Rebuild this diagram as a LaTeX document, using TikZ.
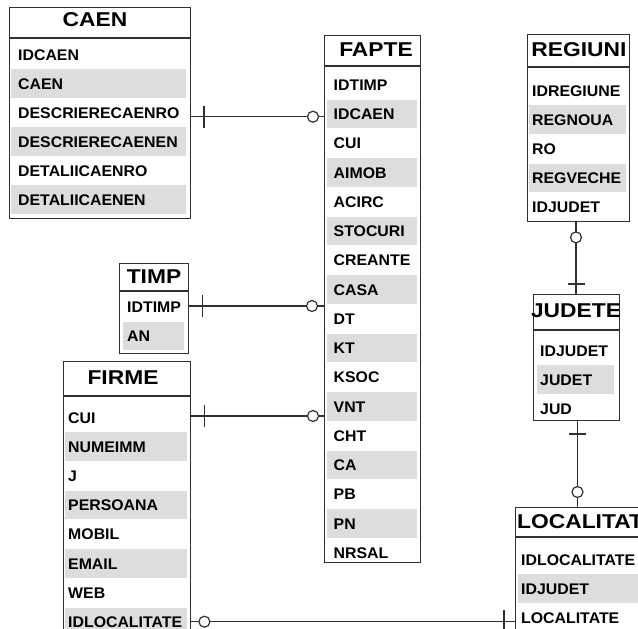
\documentclass[tikz,border=0pt]{standalone}
\usepackage{fontspec}
\setmainfont{Liberation Sans}
\newfontfamily\titlefont[FakeStretch=1.14]{Liberation Sans}
\newfontfamily\rowfont[FakeStretch=1.03]{Liberation Sans}
\usetikzlibrary{calc}
\definecolor{rowshade}{HTML}{DDDDDD}
\definecolor{edge}{HTML}{303030}
\tikzset{
  tbl/.style={draw=edge, line width=1.4pt, inner sep=0pt, anchor=north west},
  hdr/.style={draw=edge, line width=1.2pt},
  ttl/.style={inner sep=0pt, text=black, font=\titlefont\fontsize{20}{24}\selectfont\bfseries},
  rowtext/.style={inner sep=0pt, anchor=base west, text=black, font=\rowfont\fontsize{15.4}{18}\selectfont\bfseries},
  conn/.style={draw=edge, line width=1.2pt},
}
% #1 name, #2 text x, #3 shade x1, #4 shade x2, #5 first centre, #6 pitch, #7 rows
\newcommand\errows[7]{%
  \foreach \t [count=\i] in {#7} {
    \pgfmathsetmacro\cc{#5+(\i-1)*#6}
    \ifodd\i\relax\else \fill[rowshade] (#3,\cc-14.3) rectangle (#4,\cc+14.3); \fi
    \node[rowtext] (#1-\i) at (#2,\cc+5.6) {\t};
  }%
}
% #1 bar end, #2 circle end, #3 bar offset, #4 circle offset, #5 bar half length
\newcommand\erlink[5]{%
  \draw[conn] (#1) -- (#2);
  \draw[conn] ($(#1)!#3pt!(#2)!#5pt!90:(#2)$) -- ($(#1)!#3pt!(#2)!#5pt!-90:(#2)$);
  \draw[conn, fill=white] ($(#2)!#4pt!(#1)$) circle (5.5);
}
\begin{document}
\begin{tikzpicture}[x=1pt, y=-1pt]
\useasboundingbox (0,0) rectangle (638,629);
\clip (0,0) rectangle (638,629);

% ---------- rows (shading + text) ----------
\errows{caen}{18}{11}{186}{54.5}{29}{IDCAEN,CAEN,DESCRIERECAENRO,DESCRIERECAENEN,DETALIICAENRO,DETALIICAENEN}
\errows{fapte}{333.5}{327}{417}{84.75}{29.25}{IDTIMP,IDCAEN,CUI,AIMOB,ACIRC,STOCURI,CREANTE,CASA,DT,KT,KSOC,VNT,CHT,CA,PB,PN,NRSAL}
\errows{regiuni}{532}{529}{626}{90.5}{29.2}{IDREGIUNE,REGNOUA,RO,REGVECHE,IDJUDET}
\errows{judete}{540}{537}{614}{350.5}{29.2}{IDJUDET,JUDET,JUD}
\errows{localitate}{521}{518}{645}{559.5}{29.2}{IDLOCALITATE,IDJUDET,LOCALITATE}
\errows{timp}{127}{123}{184}{307}{29}{IDTIMP,AN}
\errows{firme}{68}{65}{187}{417.5}{29.2}{CUI,NUMEIMM,J,PERSOANA,MOBIL,EMAIL,WEB,IDLOCALITATE}

% ---------- tables ----------
\node[tbl, minimum width=181pt, minimum height=211pt] (caen) at (9,7) {};
\draw[hdr] (caen.west |- 0,38) -- (caen.east |- 0,38);
\node[ttl] (caen-t) at (95,20) {CAEN};

\node[tbl, minimum width=96pt, minimum height=527pt] (fapte) at (324,35) {};
\draw[hdr] (fapte.west |- 0,66) -- (fapte.east |- 0,66);
\node[ttl] (fapte-t) at (376,50) {FAPTE};

\node[tbl, minimum width=102pt, minimum height=187pt] (regiuni) at (527,34) {};
\draw[hdr] (regiuni.west |- 0,67) -- (regiuni.east |- 0,67);
\node[ttl] (regiuni-t) at (579,50) {REGIUNI};

\node[tbl, minimum width=86pt, minimum height=126pt] (judete) at (533,294) {};
\draw[hdr] (judete.west |- 0,330) -- (judete.east |- 0,330);
\node[ttl] (judete-t) at (576,311) {JUDETE};

\node[tbl, minimum width=200pt, minimum height=200pt] (localitate) at (515,507) {};
\draw[hdr] (localitate.west |- 0,537) -- (localitate.east |- 0,537);
\node[ttl, anchor=west] (localitate-t) at (517,522) {LOCALITATE};

\node[tbl, minimum width=69pt, minimum height=90pt] (timp) at (119,263) {};
\draw[hdr] (timp.west |- 0,291) -- (timp.east |- 0,291);
\node[ttl] (timp-t) at (154,277) {TIMP};

\node[tbl, minimum width=127pt, minimum height=300pt] (firme) at (63,361) {};
\draw[hdr] (firme.west |- 0,396) -- (firme.east |- 0,396);
\node[ttl] (firme-t) at (123,378) {FIRME};

% ---------- connectors ----------
\coordinate (l1a) at (caen.east |- 0,116.7);
\coordinate (l1b) at (fapte.west |- 0,116.7);
\erlink{l1a}{l1b}{12.5}{11}{11}

\coordinate (l2a) at (timp.east |- 0,306);
\coordinate (l2b) at (fapte.west |- 0,306);
\erlink{l2a}{l2b}{13}{12}{11}

\coordinate (l3a) at (firme.east |- 0,416);
\coordinate (l3b) at (fapte.west |- 0,416);
\erlink{l3a}{l3b}{13}{11}{11}

\coordinate (l4a) at (localitate.west |- 0,621.7);
\coordinate (l4b) at (firme.east |- 0,621.7);
\erlink{l4a}{l4b}{11}{13}{12}

\coordinate (l5a) at (judete.north -| 576,0);
\coordinate (l5b) at (regiuni.south -| 576,0);
\erlink{l5a}{l5b}{10}{15}{8.5}

\coordinate (l6a) at (judete.south -| 577.5,0);
\coordinate (l6b) at (localitate.north -| 577.5,0);
\erlink{l6a}{l6b}{12.5}{15}{8.5}
\end{tikzpicture}
\end{document}
